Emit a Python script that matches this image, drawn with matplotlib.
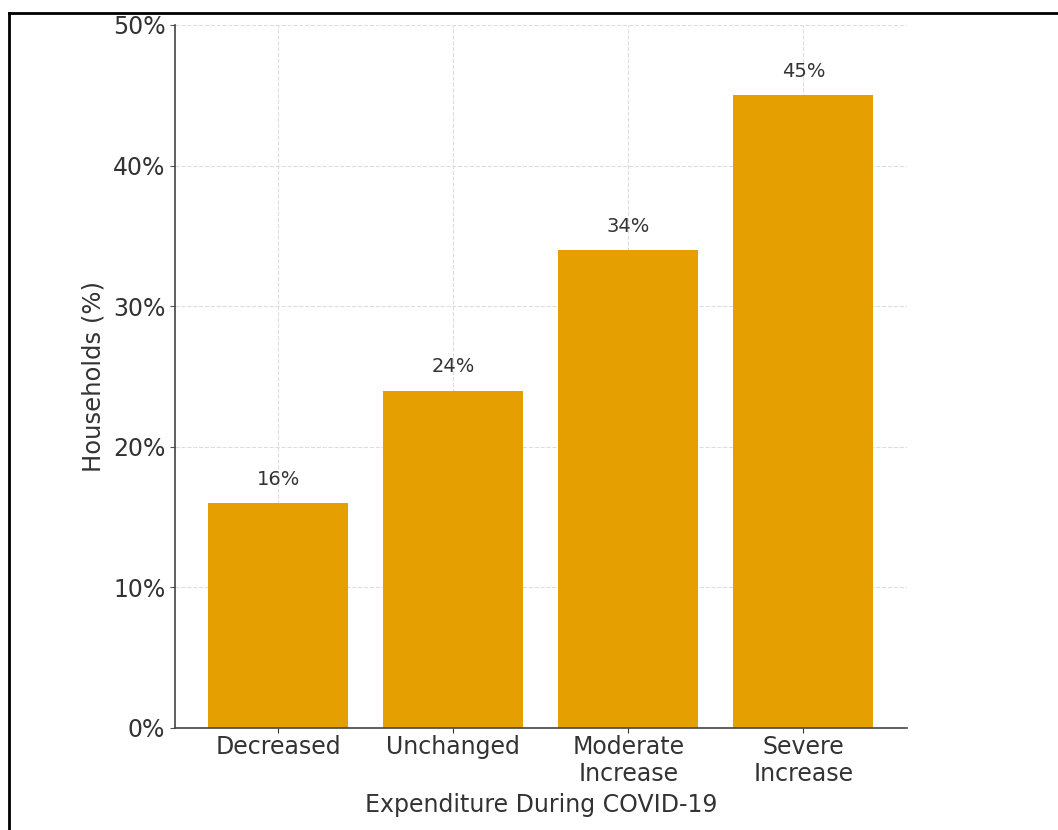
import numpy as np
import matplotlib
matplotlib.use("Agg")
import matplotlib.pyplot as plt
from matplotlib.lines import Line2D
from matplotlib.ticker import PercentFormatter

# data
categories = ["Decreased", "Unchanged", "Moderate\nIncrease", "Severe\nIncrease"]
households = [16, 24, 34, 45]
bar_color = "#E69F00"

fig = plt.figure(figsize=(10.58, 8.30), dpi=100)
ax = fig.add_axes([0.1654, 0.1229, 0.857 - 0.1654, 0.9699 - 0.1229])

x = np.arange(len(categories))
bars = ax.bar(x, households, width=0.8, color=bar_color, zorder=2)

# value labels above bars
for rect, v in zip(bars, households):
    ax.text(rect.get_x() + rect.get_width() / 2, v + 1.0, f"{v}%",
            ha="center", va="bottom", fontsize=14, color="#333333")

ax.set_ylim(0, 50)
ax.set_yticks(np.arange(0, 51, 10))
ax.yaxis.set_major_formatter(PercentFormatter(decimals=0))
ax.set_xticks(x)
ax.set_xticklabels(categories, fontsize=17, color="#333333", linespacing=1.15)
ax.tick_params(axis="y", labelsize=17, labelcolor="#333333", color="#555555")
ax.tick_params(axis="x", color="#333333", pad=1.5)

ax.set_xlabel("Expenditure During COVID-19", fontsize=17, color="#333333", labelpad=5)
ax.set_ylabel("Households (%)", fontsize=17.5, color="#333333", labelpad=5)

ax.grid(True, linestyle="--", color="#dddddd", linewidth=0.8, zorder=0)
ax.set_axisbelow(True)
for side in ["top", "right"]:
    ax.spines[side].set_visible(False)
for side in ["left", "bottom"]:
    ax.spines[side].set_color("#444444")
    ax.spines[side].set_linewidth(1.2)

# screenshot frame
ty = 1 - 13 / 830
lx = 9 / 1058
fig.add_artist(Line2D([lx, 1], [ty, ty], transform=fig.transFigure, color="black", lw=2))
fig.add_artist(Line2D([lx, lx], [0, ty], transform=fig.transFigure, color="black", lw=2))

fig.savefig("out.png", dpi=100)
